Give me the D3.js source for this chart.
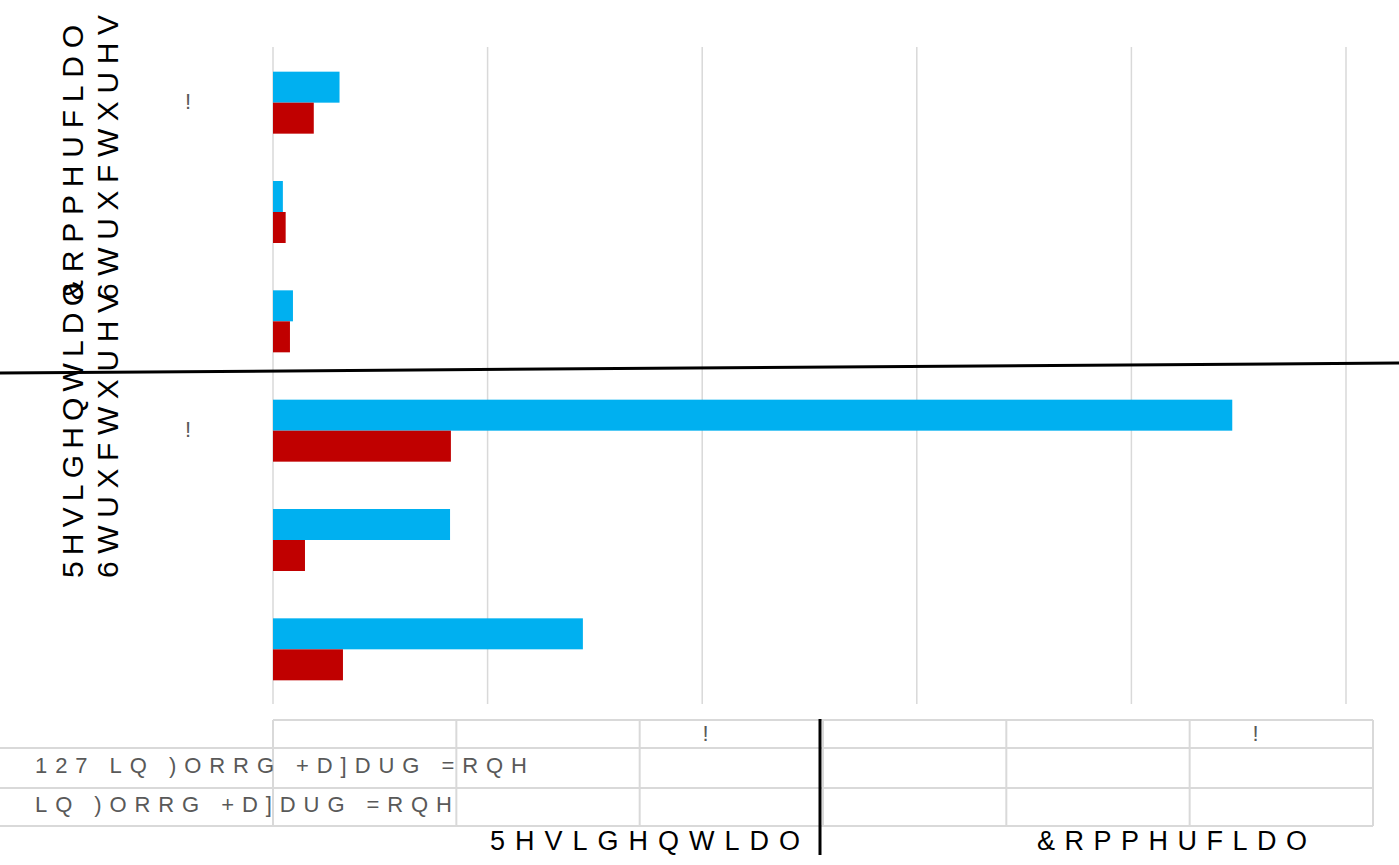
<!DOCTYPE html>
<html>
<head>
<meta charset="utf-8">
<script src="https://cdn.jsdelivr.net/npm/d3@7"></script>
<style>
  html, body { margin: 0; padding: 0; background: #ffffff; }
  svg { display: block; }
</style>
</head>
<body>
<svg id="chart" width="1399" height="865"></svg>
<script>
// ---- data ----
const categories = ["c1", "c2", "c3", "c4", "c5", "c6"];
const categoryLabels = ["!", "", "", "!", "", ""];
const seriesBlue = [0.31, 0.046, 0.093, 4.47, 0.825, 1.444];
const seriesRed  = [0.19, 0.059, 0.079, 0.829, 0.149, 0.326];
const xTicks = [0, 1, 2, 3, 4, 5];
const groupLine1 = ["&RPPHUFLDO", "5HVLGHQWLDO"];
const groupLine2 = ["6WUXFWXUHV", "6WUXFWXUHV"];
const tableRowLabels = ["127 LQ )ORRG +D]DUG =RQH", "LQ )ORRG +D]DUG =RQH"];
const tableHeader = ["", "", "!", "", "", "!"];
const tableGroups = ["5HVLGHQWLDO", "&RPPHUFLDO"];

const svg = d3.select("#chart");
const FONT = "'Liberation Sans', Arial, sans-serif";

const x = d3.scaleLinear().domain([0, 5]).range([273, 1346]);
const y = d3.scaleBand().domain(categories).range([48, 704]).paddingInner(0.433).paddingOuter(0.2165);
const ySub = d3.scaleBand().domain(["blue", "red"]).range([0, y.bandwidth()]);

// gridlines
svg.append("g").selectAll("line").data(xTicks).join("line")
  .attr("x1", d => x(d)).attr("x2", d => x(d))
  .attr("y1", 47).attr("y2", 704)
  .attr("stroke", "#d9d9d9").attr("stroke-width", 1.5);

// bars
const gBars = svg.append("g");
gBars.selectAll("rect.blue").data(seriesBlue).join("rect")
  .attr("class", "blue")
  .attr("x", x(0)).attr("y", (d, i) => y(categories[i]) + ySub("blue"))
  .attr("width", d => x(d) - x(0)).attr("height", ySub.bandwidth())
  .attr("fill", "#00B0F0");
gBars.selectAll("rect.red").data(seriesRed).join("rect")
  .attr("class", "red")
  .attr("x", x(0)).attr("y", (d, i) => y(categories[i]) + ySub("red"))
  .attr("width", d => x(d) - x(0)).attr("height", ySub.bandwidth())
  .attr("fill", "#C00000");

// category labels
svg.append("g").selectAll("text").data(categoryLabels).join("text")
  .attr("x", 188).attr("y", (d, i) => y(categories[i]) + y.bandwidth() / 2 + 6)
  .attr("text-anchor", "middle")
  .attr("font-family", FONT).attr("font-size", 22).attr("fill", "#595959")
  .text(d => d);

// vertical group labels
const vStarts = [300, 578];
const len1 = [275, 295];
const len2 = [285, 285];
groupLine1.forEach((t, i) => {
  svg.append("text")
    .attr("transform", `translate(83,${vStarts[i]}) rotate(-90)`)
    .attr("font-family", FONT).attr("font-size", 30).attr("fill", "#000")
    .attr("textLength", len1[i]).attr("lengthAdjust", "spacing")
    .text(t);
  svg.append("text")
    .attr("transform", `translate(118,${vStarts[i]}) rotate(-90)`)
    .attr("font-family", FONT).attr("font-size", 30).attr("fill", "#000")
    .attr("textLength", len2[i]).attr("lengthAdjust", "spacing")
    .text(groupLine2[i]);
});

// diagonal separator line
svg.append("line")
  .attr("x1", 0).attr("y1", 373).attr("x2", 1399).attr("y2", 363)
  .attr("stroke", "#000").attr("stroke-width", 3);

// data table
const tx = d3.scaleBand().domain(d3.range(6)).range([273, 1373]);
const rowY = [720, 748, 788, 826];
const gT = svg.append("g").attr("stroke", "#d9d9d9").attr("stroke-width", 2);
gT.append("line").attr("x1", 273).attr("x2", 1373).attr("y1", rowY[0]).attr("y2", rowY[0]);
[1, 2, 3].forEach(k => gT.append("line").attr("x1", 0).attr("x2", 1373).attr("y1", rowY[k]).attr("y2", rowY[k]));
d3.range(7).forEach(k => {
  const xx = k < 6 ? tx(k) : 1373;
  gT.append("line").attr("x1", xx).attr("x2", xx).attr("y1", rowY[0]).attr("y2", rowY[3]);
});

svg.append("g").selectAll("text").data(tableHeader).join("text")
  .attr("x", (d, i) => tx(i) + 66).attr("y", 741)
  .attr("text-anchor", "middle")
  .attr("font-family", FONT).attr("font-size", 22).attr("fill", "#595959")
  .text(d => d);

const rowLens = [492, 417];
const rowBase = [773, 812];
tableRowLabels.forEach((t, i) => {
  svg.append("text")
    .attr("x", 35).attr("y", rowBase[i])
    .attr("font-family", FONT).attr("font-size", 22).attr("fill", "#595959")
    .attr("textLength", rowLens[i]).attr("lengthAdjust", "spacing")
    .text(t);
});

const grpX = [490, 1037];
const grpLen = [310, 270];
tableGroups.forEach((t, i) => {
  svg.append("text")
    .attr("x", grpX[i]).attr("y", 850)
    .attr("font-family", FONT).attr("font-size", 27).attr("fill", "#000")
    .attr("textLength", grpLen[i]).attr("lengthAdjust", "spacing")
    .text(t);
});

// thick separator in the table
svg.append("line")
  .attr("x1", 820).attr("x2", 820).attr("y1", 719).attr("y2", 855)
  .attr("stroke", "#000").attr("stroke-width", 3);
</script>
</body>
</html>
